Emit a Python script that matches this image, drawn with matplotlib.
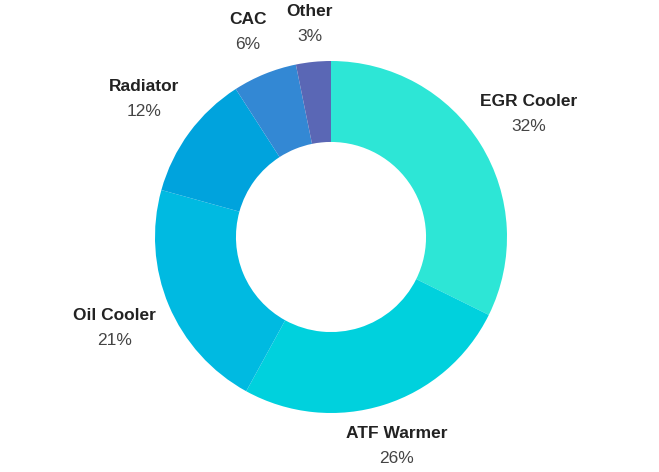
import numpy as np
import matplotlib
matplotlib.use("Agg")
import matplotlib.pyplot as plt

categories = ["EGR Cooler", "ATF Warmer", "Oil Cooler", "Radiator", "CAC", "Other"]
values = [32.3, 25.7, 21.3, 11.6, 5.9, 3.2]
colors = ["#2de6d6", "#00d1dd", "#00bae1", "#00a3dd", "#3388d4", "#5a67b5"]

W, H = 659, 472
cx, cy = 331, 237
R = 176.0

fig = plt.figure(figsize=(W / 100, H / 100), dpi=100)
ax = fig.add_axes([0, 0, 1, 1])

wedges, _ = ax.pie(values, colors=colors, startangle=90, counterclock=False,
                   radius=1.0, wedgeprops=dict(width=0.46, linewidth=0),
                   frame=True)
ax.set_xlim(-cx / R, (W - cx) / R)
ax.set_ylim(-(H - cy) / R, cy / R)
ax.set_aspect("equal")
ax.axis("off")

total = sum(values)
for w, name, v in zip(wedges, categories, values):
    mid = np.deg2rad((w.theta1 + w.theta2) / 2)
    r = (211 + 26 * abs(np.cos(mid))) / R
    x, y = r * np.cos(mid), r * np.sin(mid)
    ax.text(x, y + 12.5 / R, name, ha="center", va="center", fontsize=12.5,
            fontweight="bold", color="#222222", family="Liberation Sans")
    ax.text(x, y - 12.5 / R, f"{v / total * 100:.0f}%", ha="center", va="center",
            fontsize=12.5, color="#444444", family="Liberation Sans")

fig.savefig("out.png", dpi=100)
